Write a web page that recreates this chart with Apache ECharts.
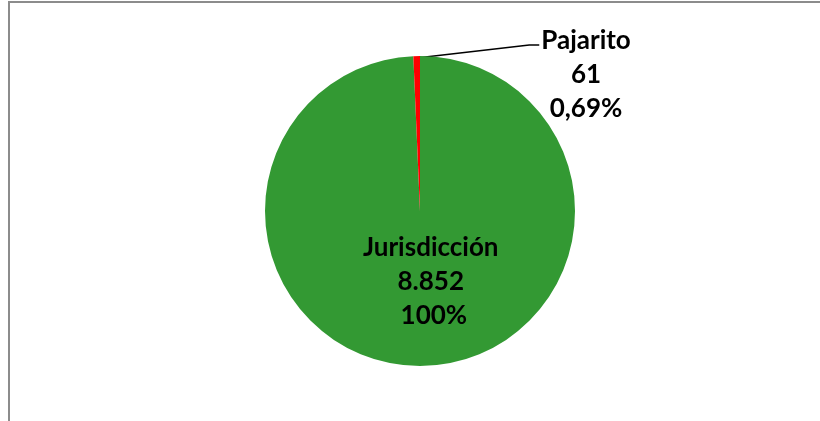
<!DOCTYPE html>
<html>
<head>
<meta charset="utf-8">
<script src="https://cdn.jsdelivr.net/npm/echarts@6/dist/echarts.min.js"></script>
<style>
  html, body { margin: 0; padding: 0; background: #fff; }
  #chart { width: 820px; height: 421px; }
</style>
</head>
<body>
<div id="chart"></div>
<script>
// datos del gráfico
const categories = ['Jurisdicción', 'Pajarito'];
const values = [8852, 61];
const valueLabels = ['8.852', '61'];
const percentLabels = [' 100%', '0,69%'];
const colors = ['#339933', '#ff0000'];

const chart = echarts.init(document.getElementById('chart'));

const LINE_H = 34;
const PAJ_X = 586, PAJ_Y = 75;

const option = {
  animation: false,
  backgroundColor: '#ffffff',
  graphic: [
    {
      type: 'rect',
      shape: { x: 9, y: 2, width: 900, height: 500 },
      style: { fill: 'none', stroke: '#8c8c8c', lineWidth: 2 },
      silent: true
    }
  ],
  series: [
    {
      type: 'pie',
      center: [420, 211],
      radius: [0, 155],
      startAngle: 90,
      clockwise: true,
      avoidLabelOverlap: false,
      data: categories.map((name, i) => ({
        name: name,
        value: values[i],
        itemStyle: { color: colors[i] },
        label: i === 0
          ? { position: 'inside' }
          : { position: 'outside' },
        labelLine: i === 0
          ? { show: false }
          : { show: true, length: 8, length2: 10, lineStyle: { color: '#000', width: 1.5 } }
      })),
      label: {
        show: true,
        color: '#000',
        fontFamily: 'Lato',
        fontWeight: 'bold',
        fontSize: 26,
        lineHeight: LINE_H,
        align: 'center',
        formatter: p => categories[p.dataIndex] + '\n' + valueLabels[p.dataIndex] + '\n' + percentLabels[p.dataIndex]
      },
      labelLayout: params => {
        if (params.dataIndex === 0) {
          return { dx: 9, dy: -10 };
        }
        // línea guía: desde la punta del sector hasta la primera línea del texto
        const left = PAJ_X - params.labelRect.width / 2;
        const firstY = PAJ_Y - params.labelRect.height / 2 + LINE_H / 2 + 4;
        const ax = params.rect.x + params.rect.width / 2;
        return {
          x: PAJ_X, y: PAJ_Y, align: 'center', verticalAlign: 'middle',
          labelLinePoints: [[ax, params.rect.y + 2], [left - 12, firstY], [left - 2, firstY]]
        };
      }
    }
  ]
};

chart.setOption(option);
</script>
</body>
</html>
